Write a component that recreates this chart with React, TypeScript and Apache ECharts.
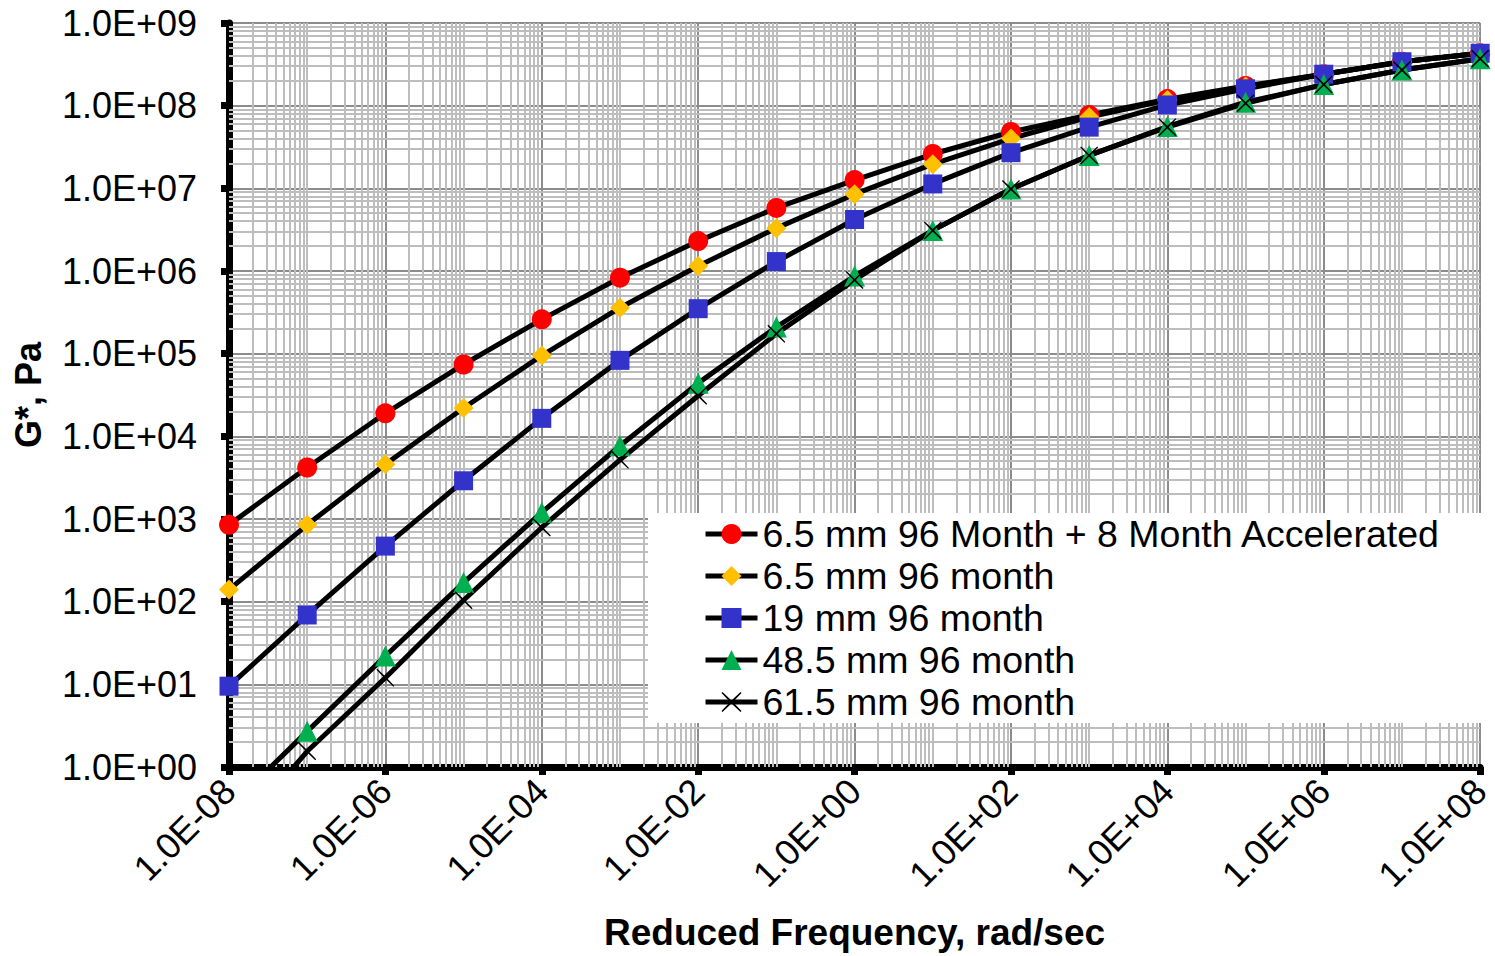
import React, { useEffect, useRef } from 'react';
import * as echarts from 'echarts';

const FONT = 'Arial, "Liberation Sans", sans-serif';

const frequencies = [1e-8, 1e-7, 1e-6, 1e-5, 1e-4, 1e-3, 1e-2, 1e-1, 1e0, 1e1, 1e2, 1e3, 1e4, 1e5, 1e6, 1e7, 1e8];

const seriesNames = [
  '6.5 mm 96 Month + 8 Month Accelerated',
  '6.5 mm 96 month',
  '19 mm 96 month',
  '48.5 mm 96 month',
  '61.5 mm 96 month',
];

const g65Accel = [850, 4200, 19000, 74000, 2.6e5, 8.3e5, 2.3e6, 5.8e6, 1.26e7, 2.6e7, 4.8e7, 7.7e7, 1.2e8, 1.73e8, 2.4e8, 3.4e8, 4.3e8];
const g65 = [140, 850, 4600, 22000, 95000, 3.6e5, 1.15e6, 3.3e6, 8.5e6, 1.96e7, 4.0e7, 7.3e7, 1.17e8, 1.7e8, 2.4e8, 3.4e8, 4.3e8];
const g19 = [9.5, 69, 470, 2900, 16500, 83000, 3.5e5, 1.3e6, 4.2e6, 1.13e7, 2.7e7, 5.5e7, 1.02e8, 1.6e8, 2.4e8, 3.4e8, 4.3e8];
const g485 = [0.32, 2.7, 22, 170, 1200, 7700, 44000, 2.1e5, 8.7e5, 3.1e6, 9.8e6, 2.5e7, 5.6e7, 1.1e8, 1.8e8, 2.7e8, 3.7e8];
const g615 = [0.12, 1.55, 12, 104, 790, 5200, 31000, 1.74e5, 7.8e5, 3.1e6, 9.8e6, 2.5e7, 5.5e7, 1.07e8, 1.8e8, 2.7e8, 3.7e8];

const seriesValues = [g65Accel, g65, g19, g485, g615];
const markerColors = ['#ff0000', '#ffc000', '#3333cc', '#00b050', '#000000'];
const X_PATH = 'path://M1,0 L10,8.6 L19,0 L20,1 L11.4,10 L20,19 L19,20 L10,11.4 L1,20 L0,19 L8.6,10 L0,1 Z';
const markerSymbols = ['circle', 'diamond', 'rect', 'triangle', X_PATH];
const markerSizes = [20, 20, 19, 21, 18];

// minor gridline positions
const xMinor: number[] = [];
for (let e = -8; e < 8; e++) {
  for (let k = 1; k <= 9; k++) {
    if (k === 1 && e % 2 === 0) continue;
    xMinor.push(k * Math.pow(10, e));
  }
}
const yMinor: number[] = [];
for (let e = 0; e < 9; e++) {
  for (let k = 2; k <= 9; k++) yMinor.push(k * Math.pow(10, e));
}

function sci(v: number): string {
  const e = Math.round(Math.log10(v));
  const sign = e < 0 ? '-' : '+';
  return '1.0E' + sign + String(Math.abs(e)).padStart(2, '0');
}

export default function App() {
  const ref = useRef<HTMLDivElement>(null);
  useEffect(() => {
    document.body.style.margin = '0';
    const chart = echarts.init(ref.current!, null, { renderer: 'svg' });
    const series: any[] = [
      {
        name: '__grid',
        type: 'line',
        data: [],
        z: 1,
        silent: true,
        markLine: {
          silent: true,
          z: 1,
          precision: 20,
          symbol: ['none', 'none'],
          label: { show: false },
          lineStyle: { color: '#bdbdbd', width: 2, type: 'solid' },
          emphasis: { disabled: true },
          data: [...xMinor.map((v) => ({ xAxis: v })), ...yMinor.map((v) => ({ yAxis: v }))],
        },
      },
    ];
    seriesNames.forEach((name, i) => {
      series.push({
        name,
        type: 'line',
        z: 3,
        data: frequencies.map((f, j) => [f, seriesValues[i][j]]),
        symbol: markerSymbols[i],
        symbolSize: markerSizes[i],
        showAllSymbol: true,
        clip: true,
        lineStyle: { color: '#000', width: 5 },
        itemStyle: { color: markerColors[i], borderWidth: 0 },
        emphasis: { disabled: true },
      });
    });
    chart.setOption({
      animation: false,
      backgroundColor: '#fff',
      textStyle: { fontFamily: FONT },
      grid: { left: 229, right: 10, top: 23, bottom: 188, containLabel: false },
      xAxis: {
        type: 'log',
        logBase: 10,
        min: 1e-8,
        max: 1e8,
        interval: 2,
        splitNumber: 8,
        name: 'Reduced Frequency, rad/sec',
        nameLocation: 'middle',
        nameGap: 147,
        nameTextStyle: { fontSize: 37, fontWeight: 'bold', color: '#000', fontFamily: FONT },
        axisLine: { onZero: false, lineStyle: { color: '#000', width: 7 } },
        axisTick: { show: true, inside: false, length: 8, lineStyle: { color: '#000', width: 7 } },
        axisLabel: {
          rotate: 45,
          margin: 18,
          fontSize: 36,
          color: '#000',
          fontFamily: FONT,
          formatter: (v: number) => sci(v),
        },
        splitLine: { show: true, lineStyle: { color: '#8c8c8c', width: 2 } },
      },
      yAxis: {
        type: 'log',
        logBase: 10,
        min: 1,
        max: 1e9,
        name: 'G*, Pa',
        nameLocation: 'middle',
        nameGap: 183,
        nameTextStyle: { fontSize: 36, fontWeight: 'bold', color: '#000', fontFamily: FONT },
        axisLine: { lineStyle: { color: '#000', width: 7 } },
        axisTick: { show: true, inside: false, length: 8, lineStyle: { color: '#000', width: 7 } },
        axisLabel: {
          margin: 32,
          fontSize: 36,
          color: '#000',
          fontFamily: FONT,
          formatter: (v: number) => sci(v),
        },
        splitLine: { show: true, lineStyle: { color: '#8c8c8c', width: 2 } },
      },
      legend: {
        orient: 'vertical',
        left: 648,
        top: 513,
        z: 4,
        backgroundColor: '#fff',
        padding: [0, 48, 0, 55],
        itemGap: 0,
        itemWidth: 52,
        itemHeight: 25,
        selectedMode: false,
        textStyle: { fontSize: 37.5, color: '#000', fontFamily: FONT, lineHeight: 42 },
        lineStyle: { width: 5 },
        data: seriesNames,
      },
      series,
    });
    return () => chart.dispose();
  }, []);
  return <div ref={ref} style={{ width: 1495, height: 956 }} />;
}
